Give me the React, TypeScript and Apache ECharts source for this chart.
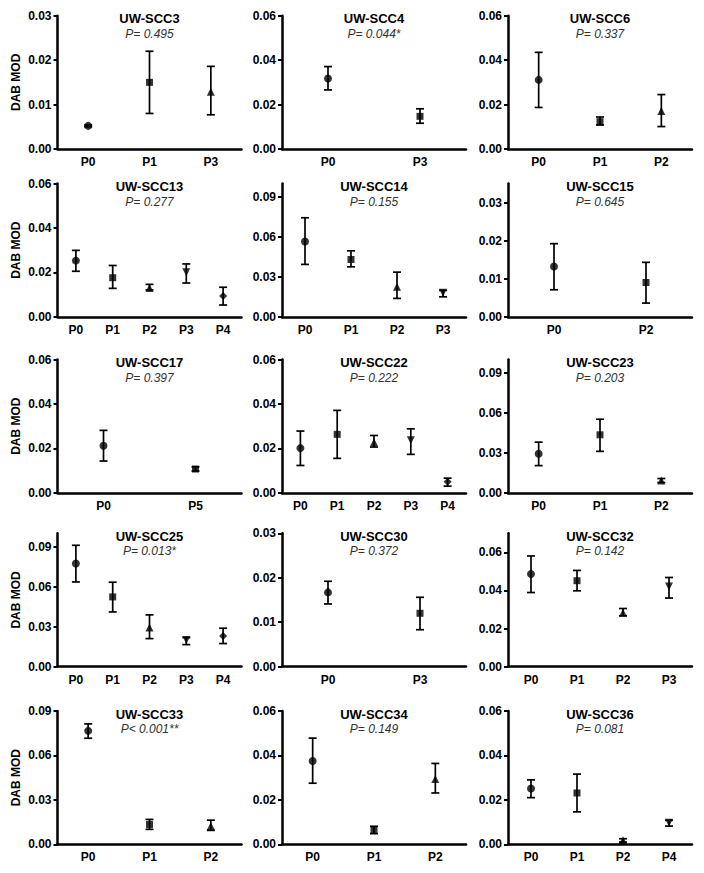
import React, { useEffect, useRef } from "react";
import * as echarts from "echarts";

const panelTitles = ["UW-SCC3","UW-SCC4","UW-SCC6","UW-SCC13","UW-SCC14","UW-SCC15","UW-SCC17","UW-SCC22","UW-SCC23","UW-SCC25","UW-SCC30","UW-SCC32","UW-SCC33","UW-SCC34","UW-SCC36"];
const pLabels = ["P= 0.495","P= 0.044*","P= 0.337","P= 0.277","P= 0.155","P= 0.645","P= 0.397","P= 0.222","P= 0.203","P= 0.013*","P= 0.372","P= 0.142","P< 0.001**","P= 0.149","P= 0.081"];
const categories = [
  ["P0","P1","P3"],["P0","P3"],["P0","P1","P2"],
  ["P0","P1","P2","P3","P4"],["P0","P1","P2","P3"],["P0","P2"],
  ["P0","P5"],["P0","P1","P2","P3","P4"],["P0","P1","P2"],
  ["P0","P1","P2","P3","P4"],["P0","P3"],["P0","P1","P2","P3"],
  ["P0","P1","P2"],["P0","P1","P2"],["P0","P1","P2","P4"],
];
const meanValues = [
  [0.0052,0.0150,0.0129],
  [0.0317,0.0147],
  [0.0311,0.0123,0.0171],
  [0.0253,0.0176,0.0130,0.0200,0.0094],
  [0.0565,0.0430,0.0225,0.0180],
  [0.0132,0.0090],
  [0.0212,0.0107],
  [0.0201,0.0263,0.0228,0.0236,0.0050],
  [0.0293,0.0435,0.0092],
  [0.0773,0.0523,0.0293,0.0200,0.0230],
  [0.0167,0.0120],
  [0.0486,0.0451,0.0283,0.0421],
  [0.0766,0.0134,0.0123],
  [0.0375,0.0066,0.0294],
  [0.0251,0.0231,0.0018,0.0097],
];
const lowerValues = [
  [0.0050,0.0080,0.0077],
  [0.0266,0.0116],
  [0.0187,0.0108,0.0101],
  [0.0205,0.0128,0.0121,0.0152,0.0053],
  [0.0393,0.0375,0.0138,0.0150],
  [0.0071,0.0036],
  [0.0143,0.0098],
  [0.0123,0.0155,0.0206,0.0173,0.0030],
  [0.0204,0.0311,0.0077],
  [0.0635,0.0410,0.0210,0.0165,0.0173],
  [0.0141,0.0083],
  [0.0389,0.0398,0.0267,0.0360],
  [0.0716,0.0101,0.0094],
  [0.0275,0.0048,0.0231],
  [0.0210,0.0146,0.0010,0.0082],
];
const upperValues = [
  [0.0054,0.0220,0.0186],
  [0.0371,0.0181],
  [0.0435,0.0144,0.0245],
  [0.0299,0.0231,0.0146,0.0238,0.0133],
  [0.0743,0.0495,0.0335,0.0198],
  [0.0192,0.0143],
  [0.0281,0.0117],
  [0.0278,0.0371,0.0258,0.0288,0.0066],
  [0.0380,0.0552,0.0107],
  [0.0910,0.0633,0.0388,0.0218,0.0288],
  [0.0192,0.0156],
  [0.0581,0.0505,0.0305,0.0468],
  [0.0813,0.0168,0.0163],
  [0.0478,0.0081,0.0364],
  [0.0290,0.0316,0.0025,0.0108],
];
const yMaxValues = [0.03,0.06,0.06,0.06,0.1,0.035,0.06,0.06,0.1,0.1,0.03,0.07,0.09,0.06,0.06];
const yStepValues = [0.01,0.02,0.02,0.02,0.03,0.01,0.02,0.02,0.03,0.03,0.01,0.02,0.03,0.02,0.02];
const yAxisTitle = "DAB MOD";

const markerShapes = ["circle", "rect", "triangle", "triangle", "diamond"];
const markerRotate = [0, 0, 0, 180, 0];
const markerSizes = [8, 7, 8, 8, 8];

const colLeft = [57.5, 282, 508];
const rowTop = [15.7, 183.5, 359.5, 533.3, 711];
const plotW = 184;
const plotH = 133.3;
const FONT = "'Liberation Sans', Arial, sans-serif";

function tickList(max: number, step: number): number[] {
  const out: number[] = [];
  for (let k = 0; k * step <= max + 1e-9; k++) out.push(+(k * step).toFixed(4));
  return out;
}

export default function App() {
  const ref = useRef<HTMLDivElement>(null);
  useEffect(() => {
    if (!ref.current) return;
    const chart = echarts.init(ref.current, undefined, { renderer: "svg" });
    const grids: any[] = [];
    const xAxes: any[] = [];
    const yAxes: any[] = [];
    const series: any[] = [];
    const graphics: any[] = [];
    panelTitles.forEach((title, p) => {
      const col = p % 3;
      const row = Math.floor(p / 3);
      const left = colLeft[col];
      const top = rowTop[row];
      grids.push({ left, top, width: plotW, height: plotH, containLabel: false });
      const ticks = tickList(yMaxValues[p], yStepValues[p]);
      xAxes.push({
        type: "category",
        gridIndex: p,
        data: categories[p],
        boundaryGap: true,
        axisLine: { lineStyle: { color: "#000", width: 2.5 } },
        axisTick: { alignWithLabel: true, length: 4, lineStyle: { color: "#000", width: 2 } },
        axisLabel: { color: "#000", fontFamily: FONT, fontWeight: "bold", fontSize: 12, margin: 7 },
        splitLine: { show: false },
      });
      yAxes.push({
        type: "value",
        gridIndex: p,
        min: 0,
        max: yMaxValues[p],
        interval: yStepValues[p],
        axisLine: { show: true, lineStyle: { color: "#000", width: 2.5 } },
        axisTick: { show: true, length: 4, lineStyle: { color: "#000", width: 2 }, customValues: ticks },
        axisLabel: {
          color: "#000", fontFamily: FONT, fontWeight: "bold", fontSize: 12, margin: 6,
          customValues: ticks,
          formatter: (v: number) => v.toFixed(2),
        },
        splitLine: { show: false },
        name: col === 0 ? yAxisTitle : "",
        nameLocation: "middle",
        nameRotate: 90,
        nameGap: 36,
        nameTextStyle: { color: "#000", fontFamily: FONT, fontWeight: "bold", fontSize: 12 },
      });
      series.push({
        type: "custom",
        xAxisIndex: p,
        yAxisIndex: p,
        data: categories[p].map((_, i) => [i, lowerValues[p][i], upperValues[p][i]]),
        encode: { x: 0, y: [1, 2] },
        renderItem: (params: any, api: any) => {
          const xi = api.value(0);
          const lo = api.coord([xi, api.value(1)]);
          const hi = api.coord([xi, api.value(2)]);
          const w = 4;
          const st = { stroke: "#000", lineWidth: 1.7 };
          return {
            type: "group",
            children: [
              { type: "line", shape: { x1: lo[0], y1: lo[1], x2: hi[0], y2: hi[1] }, style: st },
              { type: "line", shape: { x1: lo[0] - w, y1: lo[1], x2: lo[0] + w, y2: lo[1] }, style: st },
              { type: "line", shape: { x1: hi[0] - w, y1: hi[1], x2: hi[0] + w, y2: hi[1] }, style: st },
            ],
          };
        },
        z: 2,
      });
      series.push({
        type: "scatter",
        xAxisIndex: p,
        yAxisIndex: p,
        data: meanValues[p].map((v, i) => ({
          value: [i, v],
          symbol: markerShapes[i],
          symbolRotate: markerRotate[i],
          symbolSize: markerSizes[i],
        })),
        itemStyle: { color: "#000" },
        z: 3,
      });
      const cx = left + plotW / 2;
      graphics.push({
        type: "text",
        x: cx,
        y: top + 3,
        style: { text: title, fill: "#000", font: `bold 13px ${FONT}`, textAlign: "center", textVerticalAlign: "middle" },
      });
      graphics.push({
        type: "text",
        x: cx,
        y: top + 18,
        style: { text: pLabels[p], fill: "#333", font: `italic 12px ${FONT}`, textAlign: "center", textVerticalAlign: "middle" },
      });
    });
    chart.setOption({
      animation: false,
      backgroundColor: "#fff",
      grid: grids,
      xAxis: xAxes,
      yAxis: yAxes,
      series,
      graphic: graphics,
    });
    return () => chart.dispose();
  }, []);
  return <div ref={ref} style={{ position: "fixed", left: 0, top: 0, width: 704, height: 873 }} />;
}
